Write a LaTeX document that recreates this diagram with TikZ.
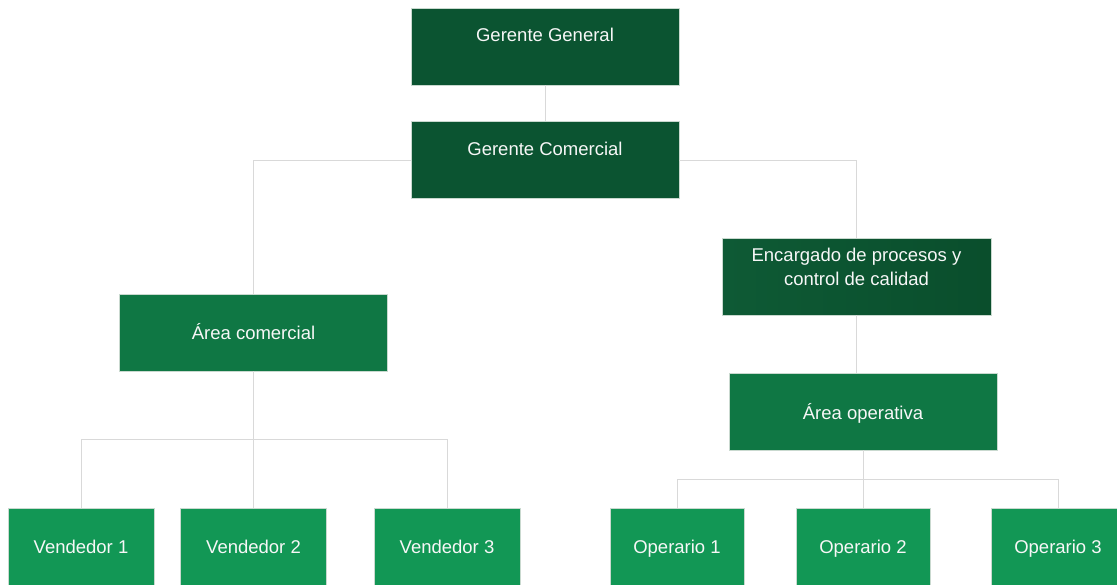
\documentclass[tikz,border=0pt]{standalone}
\usepackage{fontspec}
\setmainfont{Liberation Sans}
\definecolor{gdark}{HTML}{0B5431}
\definecolor{gencA}{HTML}{0E5A35}
\definecolor{gencB}{HTML}{0A4E2C}
\definecolor{gmid}{HTML}{0F7744}
\definecolor{glight}{HTML}{129755}
\definecolor{conncol}{HTML}{D9D9D9}
\definecolor{edgecol}{HTML}{C9D9CF}
\definecolor{txtcol}{HTML}{F7F7F7}
\tikzset{
  box/.style={rectangle, inner sep=0pt, draw=edgecol, line width=0.6pt},
  lbl/.style={text=txtcol, font=\fontsize{18.5}{24}\selectfont, inner sep=0pt, text height=13.3pt, text depth=0pt},
  lbltwo/.style={text=txtcol, font=\fontsize{18.5}{24}\selectfont, align=center, inner sep=0pt},
  topbox/.style={box, fill=gdark, minimum width=268pt, minimum height=77pt},
  encbox/.style={box, left color=gencA, right color=gencB, minimum width=269pt, minimum height=77pt},
  areabox/.style={box, fill=gmid, minimum width=268pt, minimum height=77pt},
  vendbox/.style={box, fill=glight, minimum width=146pt, minimum height=77pt},
  operbox/.style={box, fill=glight, minimum width=134pt, minimum height=77pt},
  conn/.style={draw=conncol, line width=1pt}
}
\begin{document}
\begin{tikzpicture}[x=1pt,y=-1pt]
\useasboundingbox (0,0) rectangle (1117,584);
\clip (0,0) rectangle (1117,584);
\fill[white] (0,0) rectangle (1117,584);

% boxes
\node[topbox] (gg) at (545,46.5) {};
\node[topbox] (gc) at (545,160) {};
\node[encbox] (enc) at (856.5,276.5) {};
\node[areabox] (ac) at (253.5,332.5) {};
\node[areabox] (ao) at (863,411.5) {};
\node[vendbox] (v1) at (81,546.5) {};
\node[vendbox] (v2) at (253.5,546.5) {};
\node[vendbox] (v3) at (447,546.5) {};
\node[operbox] (o1) at (677,546.5) {};
\node[operbox] (o2) at (863,546.5) {};
\node[operbox] (o3) at (1058,546.5) {};

% bus points
\coordinate (vbus) at (253.5,439.5);
\coordinate (obus) at (863,479.5);

% connectors
\draw[conn] (gg.south) -- (gc.north);
\draw[conn] (ac.north) |- (gc.west);
\draw[conn] (enc.north) |- (gc.east);
\draw[conn] (enc.south) -- (enc.south |- ao.north);
\draw[conn] (ac.south) -- (v2.north);
\draw[conn] (v1.north) |- (vbus) -| (v3.north);
\draw[conn] (ao.south) -- (o2.north);
\draw[conn] (o1.north) |- (obus) -| (o3.north);

% labels
\node[lbl] (tgg) at ([yshift=11.5pt]gg.center) {Gerente General};
\node[lbl] (tgc) at ([yshift=11pt]gc.center) {Gerente Comercial};
\node[lbltwo] (tenc) at ([yshift=10pt]enc.center) {Encargado de procesos y\\control de calidad};
\node[lbl] (tac) at (ac.center) {Área comercial};
\node[lbl] (tao) at ([yshift=-1pt]ao.center) {Área operativa};
\node[lbl] (tv1) at (v1.center) {Vendedor 1};
\node[lbl] (tv2) at (v2.center) {Vendedor 2};
\node[lbl] (tv3) at (v3.center) {Vendedor 3};
\node[lbl] (to1) at (o1.center) {Operario 1};
\node[lbl] (to2) at (o2.center) {Operario 2};
\node[lbl] (to3) at (o3.center) {Operario 3};
\end{tikzpicture}
\end{document}
